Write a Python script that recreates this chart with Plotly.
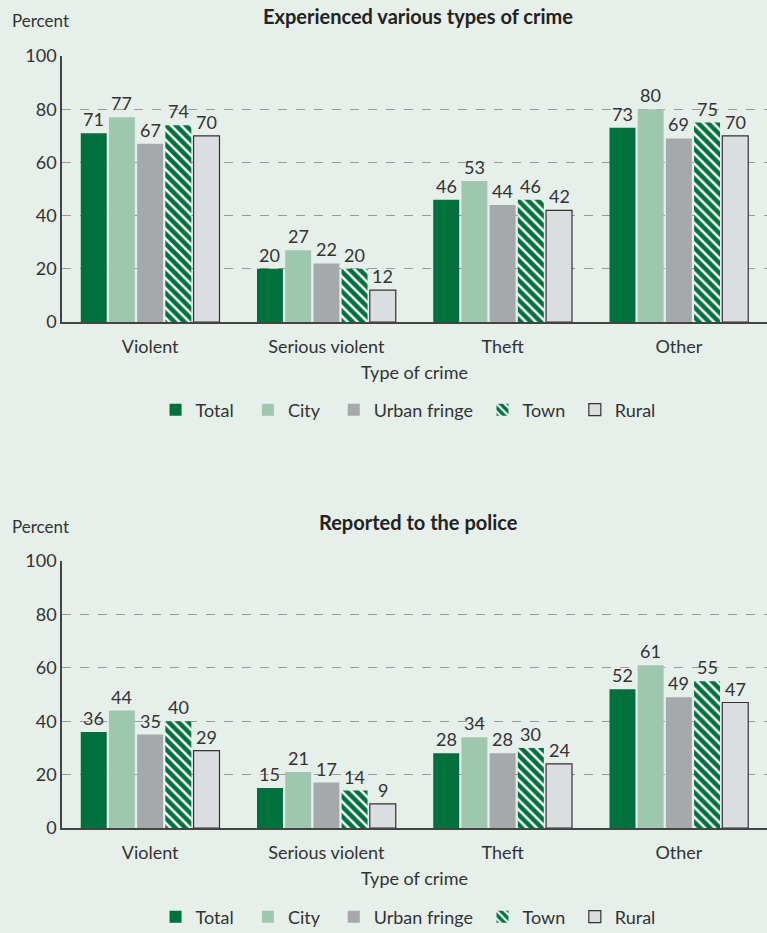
import plotly.graph_objects as go
from plotly.subplots import make_subplots

categories = ["Violent", "Serious violent", "Theft", "Other"]
series = ["Total", "City", "Urban fringe", "Town", "Rural"]
experienced = {
    "Total": [71, 20, 46, 73],
    "City": [77, 27, 53, 80],
    "Urban fringe": [67, 22, 44, 69],
    "Town": [74, 20, 46, 75],
    "Rural": [70, 12, 42, 70],
}
reported = {
    "Total": [36, 15, 28, 52],
    "City": [44, 21, 34, 61],
    "Urban fringe": [35, 17, 28, 49],
    "Town": [40, 14, 30, 55],
    "Rural": [29, 9, 24, 47],
}
y_ticks = [0, 20, 40, 60, 80, 100]

GREEN = "#00703c"
styles = {
    "Total": dict(color=GREEN, line=dict(width=0)),
    "City": dict(color="#9fc7b0", line=dict(width=0)),
    "Urban fringe": dict(color="#a6a8ab", line=dict(width=0)),
    "Town": dict(color=GREEN, line=dict(width=0),
                 pattern=dict(shape="\\", fgcolor="white", bgcolor=GREEN,
                              size=7, solidity=0.35, fillmode="replace")),
    "Rural": dict(color="#dcdde0", line=dict(width=1.2, color="#333333")),
}
NB = "\u00a0"
pad = {"Total": 2, "City": 2, "Urban fringe": 1, "Town": 1, "Rural": 0}

FONT = "Lato"
TXT = "#333333"
BG = "#e6efea"
W, H = 767, 933
BARGAP, GROUPGAP = 0.2, 0.08

top_dom = [1 - 322 / H, 1 - 56 / H]
bot_dom = [1 - 828 / H, 1 - 561 / H]
xdom = [62 / W, 1.0]

# pixel pitch of one bar slot inside a category group
cat_px = (xdom[1] - xdom[0]) * W / len(categories)
slot_px = cat_px * (1 - BARGAP) / len(series)

fig = make_subplots(rows=2, cols=1)
annotations = []

for row, data, leg in [(1, experienced, "legend"), (2, reported, "legend2")]:
    xref = "x" if row == 1 else "x2"
    yref = "y" if row == 1 else "y2"
    for k, s in enumerate(series):
        fig.add_trace(go.Bar(
            x=categories, y=data[s], name=s + NB * pad[s], marker=styles[s],
            legend=leg, showlegend=True,
        ), row=row, col=1)
        for c, v in zip(categories, data[s]):
            annotations.append(dict(
                x=c, y=v, xref=xref, yref=yref, text=str(v), showarrow=False,
                xshift=(k - (len(series) - 1) / 2) * slot_px, yshift=14,
                yanchor="middle", font=dict(size=18, color=TXT, family=FONT)))

axis_common = dict(showline=True, linecolor="#444444", linewidth=1.5,
                   tickfont=dict(size=18, color=TXT, family=FONT))
for i, dom in [(1, top_dom), (2, bot_dom)]:
    fig.update_yaxes(range=[0, 100], tickvals=y_ticks, showgrid=True,
                     gridcolor="#9a9a9a", griddash="dash", gridwidth=1,
                     zeroline=False, ticks="", ticklen=0, domain=dom,
                     automargin=False, **axis_common, row=i, col=1)
    fig.update_xaxes(domain=xdom, ticks="", showgrid=False, automargin=False,
                     ticklabelstandoff=8,
                     title=dict(text="Type of crime", font=dict(size=18, color=TXT, family=FONT), standoff=10),
                     **axis_common, row=i, col=1)

annotations += [
    dict(text="<b>Experienced various types of crime</b>", x=0.545, y=1 - 16 / H,
         xref="paper", yref="paper", yanchor="middle", showarrow=False,
         font=dict(size=20, color="#222222", family=FONT)),
    dict(text="<b>Reported to the police</b>", x=0.545, y=1 - 522 / H,
         xref="paper", yref="paper", yanchor="middle", showarrow=False,
         font=dict(size=20, color="#222222", family=FONT)),
    dict(text="Percent", x=10 / W, y=1 - 20 / H, xref="paper", yref="paper", xanchor="left",
         yanchor="middle", showarrow=False, font=dict(size=17, color=TXT, family=FONT)),
    dict(text="Percent", x=10 / W, y=1 - 526 / H, xref="paper", yref="paper", xanchor="left",
         yanchor="middle", showarrow=False, font=dict(size=17, color=TXT, family=FONT)),
]

leg_common = dict(orientation="h", xanchor="center", x=0.532, yanchor="middle",
                  font=dict(size=18, color=TXT, family=FONT), bgcolor="rgba(0,0,0,0)",
                  itemwidth=30, traceorder="normal")

fig.update_layout(
    width=W, height=H,
    margin=dict(l=0, r=0, t=0, b=0, autoexpand=False),
    paper_bgcolor=BG, plot_bgcolor=BG,
    barmode="group", bargap=BARGAP, bargroupgap=GROUPGAP,
    font=dict(family=FONT, color=TXT),
    annotations=annotations,
    legend=dict(y=1 - 410 / H, **leg_common),
    legend2=dict(y=1 - 917 / H, **leg_common),
)

fig.write_html("out.html", config={"displayModeBar": False},
               post_script="document.body.style.margin='0px';")
